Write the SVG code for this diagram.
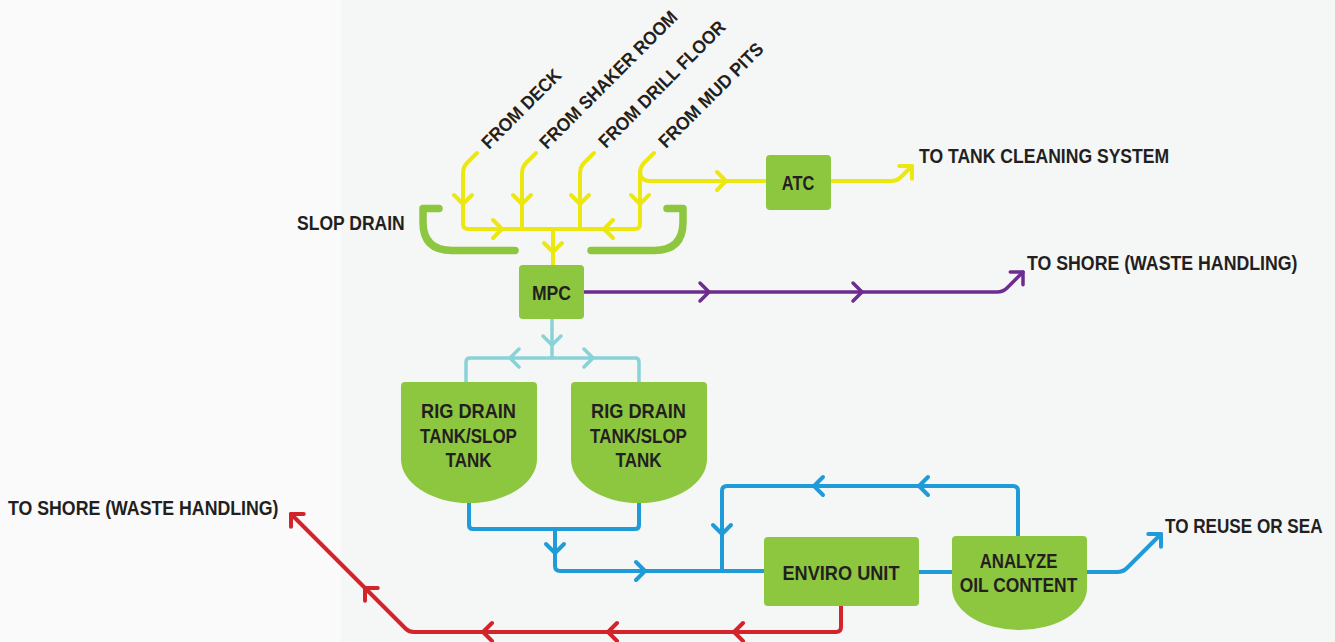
<svg xmlns="http://www.w3.org/2000/svg" width="1335" height="642" viewBox="0 0 1335 642">
<style>
text{font-family:"Liberation Sans",Arial,sans-serif;font-weight:bold;font-size:20px;fill:#231f20}
.m{text-anchor:middle}
.rot{font-size:18.5px}
.ln{fill:none;stroke-linecap:round;stroke-linejoin:round}
.y{stroke:#ece70f;stroke-width:4}
.p{stroke:#6e2c90;stroke-width:3.5}
.c{stroke:#88d2d8;stroke-width:3.5}
.b{stroke:#1f9bd7;stroke-width:4}
.r{stroke:#d3242b;stroke-width:4}
.g{stroke:#8dc63f;stroke-width:7.5}
.node{fill:#8dc63f}
</style>
<defs>
<path id="chev" d="M -9 -9 L 0 0 L -9 9" fill="none" stroke-linecap="round" stroke-linejoin="round"/>
</defs>
<rect x="0" y="0" width="1335" height="642" fill="#f5f6f6"/>
<rect x="0" y="0" width="341" height="642" fill="#fafafa"/>

<g id="connectors">
  <path class="ln y" d="M 477 153 L 467 163 Q 463 167 463 174 V 224 Q 463 229 468 229 H 635 Q 640 229 640 224 V 174 Q 640 167 644 163 L 654 153"/>
  <path class="ln y" d="M 536 153 L 526 163 Q 522 167 522 174 V 229"/>
  <path class="ln y" d="M 594 153 L 584 163 Q 580 167 580 174 V 229"/>
  <path class="ln y" d="M 553 229 V 265"/>
  <path class="ln y" d="M 640 171 Q 640 181 650 181 H 766"/>
  <path class="ln y" d="M 831 181 H 891 Q 897 181 901 177 L 912 166"/>
  <path class="ln p" d="M 584 292 H 997 Q 1003 292 1007 288 L 1023 272"/>
  <path class="ln c" d="M 552 319 V 358"/>
  <path class="ln c" d="M 466 382 V 362 Q 466 358 470 358 H 635 Q 639 358 639 362 V 382"/>
  <path class="ln b" d="M 469 503 V 525 Q 469 529 473 529 H 635 Q 639 529 639 525 V 503"/>
  <path class="ln b" d="M 555 529 V 566 Q 555 571 560 571 H 764"/>
  <path class="ln b" d="M 722 571 V 491 Q 722 486 727 486 H 1013 Q 1018 486 1018 491 V 536"/>
  <path class="ln b" d="M 919 572 H 952"/>
  <path class="ln b" d="M 1087 572 H 1117 Q 1123 572 1127 568 L 1161 534"/>
  <path class="ln r" d="M 841 606 V 627 Q 841 632 836 632 H 414 Q 409 632 406 629 L 291 514"/>

  <g class="y" stroke-width="4">
    <use href="#chev" transform="translate(463,204) rotate(90)"/>
    <use href="#chev" transform="translate(522,204) rotate(90)"/>
    <use href="#chev" transform="translate(580,204) rotate(90)"/>
    <use href="#chev" transform="translate(640,204) rotate(90)"/>
    <use href="#chev" transform="translate(502,229)"/>
    <use href="#chev" transform="translate(604,229) rotate(180)"/>
    <use href="#chev" transform="translate(553,252) rotate(90)"/>
    <use href="#chev" transform="translate(726,181)"/>
    <use href="#chev" transform="translate(912,166) rotate(-45)"/>
  </g>
  <g class="p" stroke-width="3.5">
    <use href="#chev" transform="translate(709,292)"/>
    <use href="#chev" transform="translate(862,292)"/>
    <use href="#chev" transform="translate(1023,272) rotate(-45)"/>
  </g>
  <g class="c" stroke-width="3.5">
    <use href="#chev" transform="translate(552,345) rotate(90)"/>
    <use href="#chev" transform="translate(510,358) rotate(180)"/>
    <use href="#chev" transform="translate(593,358)"/>
  </g>
  <g class="b" stroke-width="4">
    <use href="#chev" transform="translate(555,553) rotate(90)"/>
    <use href="#chev" transform="translate(645,571)"/>
    <use href="#chev" transform="translate(722,534) rotate(90)"/>
    <use href="#chev" transform="translate(814,486) rotate(180)"/>
    <use href="#chev" transform="translate(919,486) rotate(180)"/>
    <use href="#chev" transform="translate(1161,534) rotate(-45)"/>
  </g>
  <g class="r" stroke-width="4">
    <use href="#chev" transform="translate(734,632) rotate(180)"/>
    <use href="#chev" transform="translate(608,632) rotate(180)"/>
    <use href="#chev" transform="translate(483,632) rotate(180)"/>
    <use href="#chev" transform="translate(365,588) rotate(-135)"/>
    <use href="#chev" transform="translate(291,514) rotate(-135)"/>
  </g>
</g>

<g id="slop-drain">
  <path class="ln g" d="M 439 208.5 H 423 V 222 Q 423 250.5 452 250.5 H 515"/>
  <path class="ln g" d="M 667 208.5 H 683 V 222 Q 683 250.5 654 250.5 H 591"/>
  <text transform="translate(297,230) scale(0.876,1)">SLOP DRAIN</text>
</g>

<g id="src-deck"><text class="rot" transform="translate(489,150) rotate(-45) scale(0.93,1)">FROM DECK</text></g>
<g id="src-shaker"><text class="rot" transform="translate(547,150) rotate(-45) scale(0.93,1)">FROM SHAKER ROOM</text></g>
<g id="src-drill"><text class="rot" transform="translate(606,149) rotate(-45) scale(0.93,1)">FROM DRILL FLOOR</text></g>
<g id="src-mud"><text class="rot" transform="translate(666,149) rotate(-45) scale(0.945,1)">FROM MUD PITS</text></g>

<g id="mpc">
  <rect class="node" x="519" y="265" width="65" height="54" rx="4"/>
  <text class="m" transform="translate(551.5,300) scale(0.88,1.05)">MPC</text>
</g>

<g id="atc">
  <rect class="node" x="766" y="155" width="65" height="55" rx="4"/>
  <text class="m" transform="translate(798,190) scale(0.82,1)">ATC</text>
</g>

<g id="tank-1">
  <path class="node" d="M 401 386 Q 401 382 405 382 H 533 Q 537 382 537 386 V 459 A 68 44 0 0 1 401 459 Z"/>
  <text class="m" transform="translate(468.5,418) scale(0.91,1)">RIG DRAIN</text>
  <text class="m" transform="translate(468.5,443) scale(0.85,1)">TANK/SLOP</text>
  <text class="m" transform="translate(468.5,467) scale(0.85,1)">TANK</text>
</g>

<g id="tank-2">
  <path class="node" d="M 571 386 Q 571 382 575 382 H 703 Q 707 382 707 386 V 459 A 68 44 0 0 1 571 459 Z"/>
  <text class="m" transform="translate(638.5,418) scale(0.91,1)">RIG DRAIN</text>
  <text class="m" transform="translate(638.5,443) scale(0.85,1)">TANK/SLOP</text>
  <text class="m" transform="translate(638.5,467) scale(0.85,1)">TANK</text>
</g>

<g id="enviro-unit">
  <rect class="node" x="764" y="537" width="155" height="69" rx="4"/>
  <text class="m" transform="translate(841,580) scale(0.908,1)">ENVIRO UNIT</text>
</g>

<g id="analyze">
  <path class="node" d="M 952 540 Q 952 536 956 536 H 1083 Q 1087 536 1087 540 V 588 A 67.5 42 0 0 1 952 588 Z"/>
  <text class="m" transform="translate(1018.5,568) scale(0.84,1)">ANALYZE</text>
  <text class="m" transform="translate(1018.5,592) scale(0.87,1)">OIL CONTENT</text>
</g>

<g id="labels">
  <text transform="translate(919,163) scale(0.879,1)">TO TANK CLEANING SYSTEM</text>
  <text transform="translate(1027,270) scale(0.887,1)">TO SHORE (WASTE HANDLING)</text>
  <text transform="translate(1165,533) scale(0.856,1)">TO REUSE OR SEA</text>
  <text transform="translate(8,515) scale(0.887,1)">TO SHORE (WASTE HANDLING)</text>
</g>
</svg>
